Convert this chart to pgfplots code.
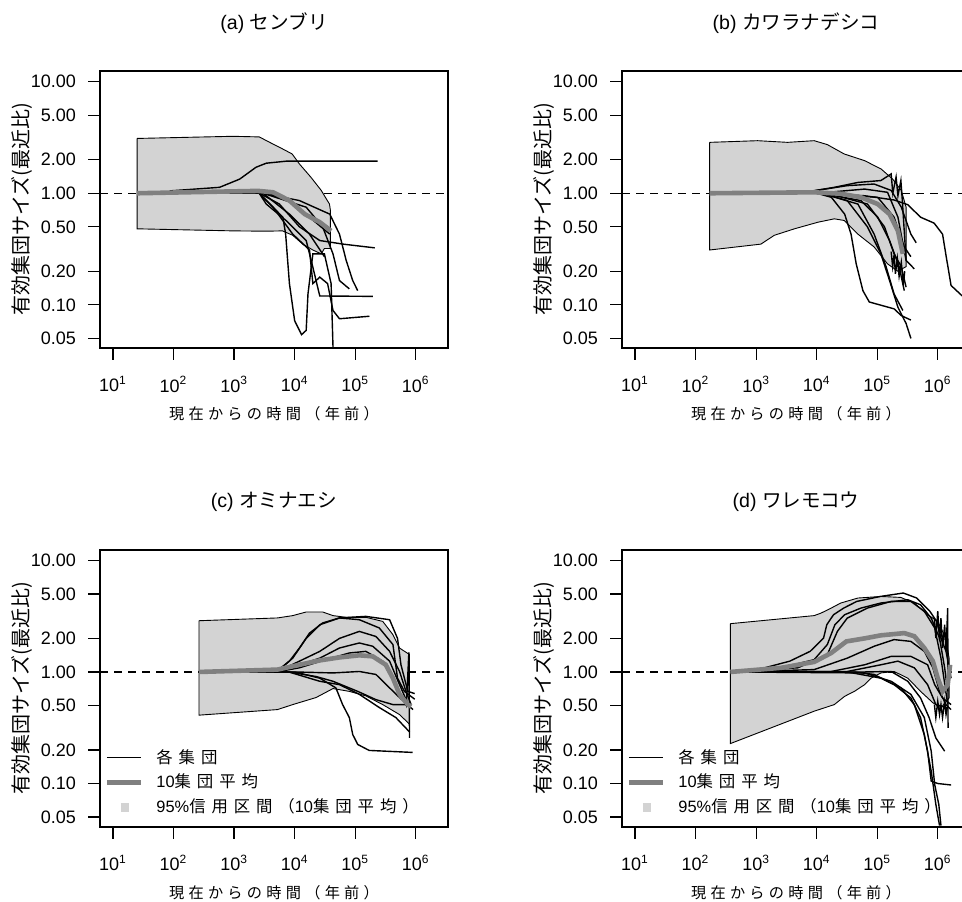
\documentclass[border=0pt]{standalone}
\usepackage{fontspec}
\setmainfont{Liberation Sans}
\newfontfamily\jp{Noto Sans CJK JP}
\newfontfamily\jpsp[LetterSpace=28]{Noto Sans CJK JP}
\newfontfamily\jpkey[LetterSpace=36]{Noto Sans CJK JP}
\usepackage{pgfplots}
\pgfplotsset{compat=1.18}
\definecolor{ciGray}{RGB}{211,211,211}
\definecolor{meanGray}{RGB}{128,128,128}
\pgfplotsset{
  pop/.style={black, line width=0.7pt, forget plot},
  avg/.style={meanGray, line width=2.3pt, forget plot},
  ci/.style={fill=ciGray, draw=black, line width=0.45pt, forget plot},
  one/.style={black, dash pattern=on 4pt off 3pt, line width=0.6pt, forget plot},
}
\newcommand{\keylegend}{%
  \addlegendimage{black, line width=0.7pt}
  \addlegendentry{{\jpkey 各集団}}
  \addlegendimage{meanGray, line width=2.6pt}
  \addlegendentry{10{\jpkey 集団平均}}
  \addlegendimage{ciGray, line width=4.4pt, shorten <=7pt, shorten >=6pt}
  \addlegendentry{95\%{\jpkey 信用区間（}10{\jpkey 集団平均）}}
}
\begin{document}
\begin{tikzpicture}
\path[use as bounding box] (0,0) rectangle (481pt,450.5pt);
\clip (0,0) rectangle (481pt,450.5pt);

% (a)
\begin{axis}[
    at={(50pt,276.5pt)}, anchor=south west,
    scale only axis, width=174pt, height=138.5pt,
    xmode=log, ymode=log, xmin=6.1, xmax=3.41e6, ymin=0.041, ymax=12.47,
    xtick={10,100,1000,10000,100000,1000000},
    xticklabels={10\textsuperscript{1},10\textsuperscript{2},10\textsuperscript{3},10\textsuperscript{4},10\textsuperscript{5},10\textsuperscript{6}},
    ytick={0.05,0.1,0.2,0.5,1,2,5,10},
    yticklabels={0.05,0.10,0.20,0.50,1.00,2.00,5.00,10.00},
    xminorticks=false, yminorticks=false,
    tick align=outside, major tick length=6pt,
    xtick pos=bottom, ytick pos=left,
    axis line style={line width=0.8pt},
    tick style={black, line width=0.6pt},
    tick label style={font=\fontsize{9}{10}\selectfont},
    xticklabel style={yshift=-4.5pt},
    yticklabel style={xshift=-2.5pt},
    xlabel={{\jpsp 現在からの時間（年前）}},
    xlabel style={font=\fontsize{7.6}{8}\selectfont, at={(axis description cs:0.5,-0.238)}, anchor=center},
    ylabel={{\jp 有効集団サイズ(最近比)}},
    ylabel style={font=\fontsize{10}{12}\selectfont, at={(axis description cs:-0.224,0.5)}, anchor=center},
    title style={font=\fontsize{9.8}{11}\selectfont, at={(axis description cs:0.5,1.173)}, anchor=center, yshift=-6pt},
    title={(a) {\jp センブリ}}]
\addplot[one] coordinates {(6.1,1) (3.41e6,1)};
\addplot[ci] coordinates {(25,3.1) (950,3.24) (2600,3.2) (4400,2.76) (6300,2.5) (9100,2.25) (12000,1.83) (18600,1.39) (27500,1.06) (37600,0.80) (39000,0.70) (39000,0.32)
  (31000,0.32) (27500,0.286) (20000,0.31) (13600,0.35) (9300,0.42) (6300,0.46) (3400,0.457) (950,0.46) (25,0.48) (25,3.1)};
\addplot[pop] coordinates {(86,1.05) (575,1.13) (1240,1.34) (2300,1.71) (3400,1.86) (7300,1.94) (235000,1.94)};
\addplot[pop] coordinates {(86,1.0) (2630,1.0) (5600,0.80) (12000,0.50) (26000,0.377) (63000,0.35) (210000,0.324)};
\addplot[pop] coordinates {(86,1.0) (3000,1.0) (12000,0.86) (38000,0.65) (55000,0.43) (71000,0.25) (91000,0.165) (110000,0.134)};
\addplot[pop] coordinates {(86,1.0) (3000,1.0) (15500,0.75) (29000,0.50) (43000,0.286) (55000,0.165) (80000,0.139)};
\addplot[pop] coordinates {(86,1.0) (2600,1.0) (3400,0.80) (7200,0.57) (15500,0.377) (20000,0.217) (26000,0.12) (195000,0.119)};
\addplot[pop] coordinates {(86,1.0) (2600,1.0) (4400,0.75) (9300,0.43) (17600,0.31) (20000,0.155) (26000,0.177) (35000,0.155) (43000,0.089) (55000,0.075) (172000,0.079)};
\addplot[pop] coordinates {(86,1.0) (2600,1.0) (6400,0.61) (7100,0.43) (8200,0.155) (10000,0.072) (13000,0.054) (15500,0.059) (16600,0.125) (20000,0.286) (31000,0.286) (40000,0.155) (43000,0.042)};
\addplot[pop] coordinates {(86,1.0) (3000,1.0) (8200,0.65) (17600,0.43) (29000,0.286) (31000,0.27)};
\addplot[pop] coordinates {(86,1.0) (3500,1.0) (8200,0.86) (38000,0.43)};
\addplot[avg] coordinates {(25,1.0) (2500,1.05) (4400,1.02) (8200,0.86) (14700,0.65) (26000,0.55) (40000,0.46)};
\end{axis}

% (b)
\begin{axis}[
    at={(311pt,276.5pt)}, anchor=south west,
    scale only axis, width=174pt, height=138.5pt,
    xmode=log, ymode=log, xmin=6.1, xmax=3.41e6, ymin=0.041, ymax=12.47,
    xtick={10,100,1000,10000,100000,1000000},
    xticklabels={10\textsuperscript{1},10\textsuperscript{2},10\textsuperscript{3},10\textsuperscript{4},10\textsuperscript{5},10\textsuperscript{6}},
    ytick={0.05,0.1,0.2,0.5,1,2,5,10},
    yticklabels={0.05,0.10,0.20,0.50,1.00,2.00,5.00,10.00},
    xminorticks=false, yminorticks=false,
    tick align=outside, major tick length=6pt,
    xtick pos=bottom, ytick pos=left,
    axis line style={line width=0.8pt},
    tick style={black, line width=0.6pt},
    tick label style={font=\fontsize{9}{10}\selectfont},
    xticklabel style={yshift=-4.5pt},
    yticklabel style={xshift=-2.5pt},
    xlabel={{\jpsp 現在からの時間（年前）}},
    xlabel style={font=\fontsize{7.6}{8}\selectfont, at={(axis description cs:0.5,-0.238)}, anchor=center},
    ylabel={{\jp 有効集団サイズ(最近比)}},
    ylabel style={font=\fontsize{10}{12}\selectfont, at={(axis description cs:-0.224,0.5)}, anchor=center},
    title style={font=\fontsize{9.8}{11}\selectfont, at={(axis description cs:0.5,1.173)}, anchor=center, yshift=-6pt},
    title={(b) {\jp カワラナデシコ}}]
\addplot[one] coordinates {(6.1,1) (3.41e6,1)};
\addplot[ci] coordinates {(171,2.86) (1060,2.96) (3300,2.86) (9100,2.96) (15000,2.73) (28500,2.25) (62000,1.96) (116000,1.65) (180000,1.34) (250000,1.06) (300000,0.75) (300000,0.25)
  (300000,0.22) (220000,0.20) (148000,0.233) (89000,0.33) (48000,0.43) (28500,0.57) (19600,0.59) (10500,0.55) (4300,0.48) (2000,0.42) (1200,0.35) (171,0.31) (171,2.86)};
\addplot[pop] coordinates {(171,1.0) (10000,1.0) (62000,0.95) (190000,0.87) (320000,0.79) (520000,0.61) (870000,0.54) (1200000,0.43) (1380000,0.27) (1660000,0.149) (2500000,0.121) (3200000,0.11)};
\addplot[pop] coordinates {(171,1.0) (10000,1.0) (17500,0.92) (29000,0.65) (37000,0.43) (45000,0.233) (58000,0.134) (74000,0.106) (190000,0.092) (250000,0.080) (360000,0.073)};
\addplot[pop] coordinates {(171,1.0) (12000,1.0) (32000,0.86) (69000,0.50) (115000,0.286) (160000,0.165) (220000,0.095) (300000,0.068) (360000,0.05)};
\addplot[pop] coordinates {(171,1.0) (12000,1.0) (48000,0.80) (89000,0.43) (140000,0.22) (190000,0.125) (265000,0.089)};
\addplot[pop] coordinates {(171,1.0) (15000,1.0) (69000,0.80) (132000,0.50) (190000,0.286) (250000,0.22) (300000,0.144)};
\addplot[pop] coordinates {(171,1.0) (5000,1.0) (19600,1.13) (48000,1.25) (115000,1.30) (170000,1.49) (181000,1.0) (205000,1.4) (220000,0.95) (246000,1.3) (260000,0.86) (300000,0.25)};
\addplot[pop] coordinates {(171,1.0) (5000,1.0) (32000,1.17) (89000,1.21) (170000,1.06) (250000,0.75) (360000,0.43) (440000,0.36)};
\addplot[pop] coordinates {(171,1.0) (10000,1.0) (62000,1.09) (148000,1.02) (220000,0.61) (300000,0.25) (410000,0.21)};
\addplot[pop] coordinates {(171,1.0) (10000,1.0) (102000,0.92) (190000,0.61) (280000,0.33) (360000,0.27)};
\addplot[pop] coordinates {(171,1.0) (12000,1.0) (54000,0.86) (102000,0.61) (160000,0.377) (230000,0.22) (280000,0.134)};
\addplot[pop] coordinates {(170000,0.30) (180000,0.22) (190000,0.28) (200000,0.19) (215000,0.26) (230000,0.18) (250000,0.24) (270000,0.15) (285000,0.2)};
\addplot[avg] coordinates {(171,1.0) (9100,1.02) (25000,0.99) (54000,0.92) (102000,0.80) (160000,0.65) (220000,0.46) (265000,0.286)};
\end{axis}

% (c)
\begin{axis}[
    at={(50pt,37.15pt)}, anchor=south west,
    scale only axis, width=174pt, height=138.5pt,
    xmode=log, ymode=log, xmin=6.1, xmax=3.41e6, ymin=0.041, ymax=12.47,
    xtick={10,100,1000,10000,100000,1000000},
    xticklabels={10\textsuperscript{1},10\textsuperscript{2},10\textsuperscript{3},10\textsuperscript{4},10\textsuperscript{5},10\textsuperscript{6}},
    ytick={0.05,0.1,0.2,0.5,1,2,5,10},
    yticklabels={0.05,0.10,0.20,0.50,1.00,2.00,5.00,10.00},
    xminorticks=false, yminorticks=false,
    tick align=outside, major tick length=6pt,
    xtick pos=bottom, ytick pos=left,
    axis line style={line width=0.8pt},
    tick style={black, line width=0.6pt},
    tick label style={font=\fontsize{9}{10}\selectfont},
    xticklabel style={yshift=-4.5pt},
    yticklabel style={xshift=-2.5pt},
    xlabel={{\jpsp 現在からの時間（年前）}},
    xlabel style={font=\fontsize{7.6}{8}\selectfont, at={(axis description cs:0.5,-0.238)}, anchor=center},
    ylabel={{\jp 有効集団サイズ(最近比)}},
    ylabel style={font=\fontsize{10}{12}\selectfont, at={(axis description cs:-0.224,0.5)}, anchor=center},
    title style={font=\fontsize{9.8}{11}\selectfont, at={(axis description cs:0.5,1.173)}, anchor=center, yshift=-6pt},
    title={(c) {\jp オミナエシ}},
    legend style={at={(axis description cs:0.006,0.285)}, anchor=north west,
      draw=none, fill=none, inner sep=0pt, row sep=3pt,
      font=\fontsize{8.2}{9}\selectfont, nodes={inner sep=0.5pt},
      /tikz/every odd column/.append style={column sep=5pt}},
    legend cell align=left]
\addplot[one] coordinates {(6.1,1) (3.41e6,1)};
\addplot[ci] coordinates {(263,2.88) (5200,3.05) (9300,3.2) (15500,3.45) (29000,3.45) (43000,3.2) (71000,3.09) (150000,3.09) (285000,2.84) (420000,2.16) (540000,1.64) (790000,1.43) (790000,0.34)
  (540000,0.415) (285000,0.51) (150000,0.61) (80000,0.67) (43000,0.71) (22600,0.59) (9300,0.51) (5200,0.46) (263,0.41) (263,2.88)};
\addplot[pop] coordinates {(263,1.0) (5000,1.01) (8200,1.25) (12000,1.64) (17600,2.23) (29000,2.75) (55000,3.05) (150000,3.15) (370000,2.94) (500000,2.0) (570000,1.16) (740000,0.67) (960000,0.64)};
\addplot[pop] coordinates {(263,1.0) (5000,1.0) (9300,1.33) (15500,2.0) (26000,2.65) (55000,3.05) (117000,2.94) (250000,2.48) (420000,1.76) (500000,0.88) (650000,0.67) (960000,0.57)};
\addplot[pop] coordinates {(263,1.0) (5000,1.0) (12000,1.25) (26000,1.53) (55000,2.0) (117000,2.31) (220000,2.08) (370000,1.53) (540000,1.01) (690000,0.67) (840000,0.51)};
\addplot[pop] coordinates {(263,1.0) (5000,1.0) (12000,1.16) (26000,1.33) (55000,1.64) (117000,1.82) (195000,1.70) (370000,1.25) (540000,0.77) (790000,0.48)};
\addplot[pop] coordinates {(263,1.0) (5000,1.0) (12000,1.09) (33000,1.29) (80000,1.48) (150000,1.53) (285000,1.25) (470000,0.77) (700000,0.5) (770000,1.5) (790000,0.256)};
\addplot[pop] coordinates {(263,1.0) (10000,1.0) (43000,0.98) (117000,1.01) (220000,0.95) (370000,0.72) (540000,0.59) (900000,0.46)};
\addplot[pop] coordinates {(263,1.0) (8000,1.0) (22600,0.91) (43000,0.825) (110000,0.67) (220000,0.565) (420000,0.51) (790000,0.51)};
\addplot[pop] coordinates {(263,1.0) (8000,1.0) (26000,0.825) (55000,0.77) (117000,0.63) (250000,0.48) (470000,0.39) (790000,0.29)};
\addplot[pop] coordinates {(263,1.0) (10000,1.0) (26000,0.88) (48000,0.72) (62000,0.51) (80000,0.39) (91000,0.275) (110000,0.224) (170000,0.198) (890000,0.19)};
\addplot[avg] coordinates {(263,1.0) (5200,1.05) (12000,1.16) (26000,1.27) (55000,1.35) (117000,1.41) (195000,1.38) (320000,1.16) (420000,0.88) (540000,0.63) (740000,0.51) (840000,0.49)};
\keylegend
\end{axis}

% (d)
\begin{axis}[
    at={(311pt,37.15pt)}, anchor=south west,
    scale only axis, width=174pt, height=138.5pt,
    xmode=log, ymode=log, xmin=6.1, xmax=3.41e6, ymin=0.041, ymax=12.47,
    xtick={10,100,1000,10000,100000,1000000},
    xticklabels={10\textsuperscript{1},10\textsuperscript{2},10\textsuperscript{3},10\textsuperscript{4},10\textsuperscript{5},10\textsuperscript{6}},
    ytick={0.05,0.1,0.2,0.5,1,2,5,10},
    yticklabels={0.05,0.10,0.20,0.50,1.00,2.00,5.00,10.00},
    xminorticks=false, yminorticks=false,
    tick align=outside, major tick length=6pt,
    xtick pos=bottom, ytick pos=left,
    axis line style={line width=0.8pt},
    tick style={black, line width=0.6pt},
    tick label style={font=\fontsize{9}{10}\selectfont},
    xticklabel style={yshift=-4.5pt},
    yticklabel style={xshift=-2.5pt},
    xlabel={{\jpsp 現在からの時間（年前）}},
    xlabel style={font=\fontsize{7.6}{8}\selectfont, at={(axis description cs:0.5,-0.238)}, anchor=center},
    ylabel={{\jp 有効集団サイズ(最近比)}},
    ylabel style={font=\fontsize{10}{12}\selectfont, at={(axis description cs:-0.224,0.5)}, anchor=center},
    title style={font=\fontsize{9.8}{11}\selectfont, at={(axis description cs:0.5,1.173)}, anchor=center, yshift=-6pt},
    title={(d) {\jp ワレモコウ}},
    legend style={at={(axis description cs:0.006,0.285)}, anchor=north west,
      draw=none, fill=none, inner sep=0pt, row sep=3pt,
      font=\fontsize{8.2}{9}\selectfont, nodes={inner sep=0.5pt},
      /tikz/every odd column/.append style={column sep=5pt}},
    legend cell align=left]
\addplot[one] coordinates {(6.1,1) (3.41e6,1)};
\addplot[ci] coordinates {(376,2.71) (9100,3.2) (11800,3.37) (17400,3.74) (25000,4.15) (48000,4.6) (115000,4.75) (245000,4.66) (410000,4.15) (680000,3.26) (1000000,2.84) (1360000,2.0) (1540000,1.33) (1540000,0.585)
  (1130000,0.476) (830000,0.53) (520000,0.67) (320000,0.88) (190000,1.01) (115000,0.98) (79000,0.88) (62000,0.77) (42000,0.67) (29000,0.605) (19600,0.51) (9100,0.445) (376,0.228) (376,2.71)};
\addplot[pop] coordinates {(376,1.0) (1070,1.05) (3600,1.25) (7800,1.53) (13000,2.01) (14700,2.65) (19000,3.26) (28000,3.74) (46000,4.29) (112000,4.75) (270000,5.1) (450000,4.6) (740000,3.5) (960000,2.84) (1130000,2.01) (1370000,1.53) (1660000,0.88)};
\addplot[pop] coordinates {(376,1.0) (2600,1.09) (9100,1.29) (15000,1.76) (20000,2.65) (29000,3.26) (54000,3.74) (115000,4.15) (320000,4.44) (520000,4.0) (780000,3.04) (1070000,2.01) (1300000,1.09) (1460000,0.67)};
\addplot[pop] coordinates {(376,1.0) (4900,1.09) (15000,1.43) (22000,2.31) (32000,3.04) (69000,3.74) (170000,4.29) (360000,4.29) (600000,3.5) (890000,2.48) (1130000,1.33) (1460000,0.51)};
\addplot[pop] coordinates {(376,1.0) (9100,1.05) (32000,1.33) (89000,1.70) (190000,1.95) (360000,1.88) (600000,1.53) (830000,1.09) (1070000,0.67) (1370000,0.51) (1660000,0.46)};
\addplot[pop] coordinates {(376,1.0) (17400,1.01) (62000,1.16) (170000,1.38) (360000,1.38) (680000,1.16) (890000,0.77) (1200000,0.585) (1660000,0.51)};
\addplot[pop] coordinates {(376,1.0) (32000,1.01) (115000,1.16) (220000,1.25) (410000,1.09) (680000,0.77) (930000,0.51) (1460000,0.476)};
\addplot[pop] coordinates {(376,1.0) (62000,1.0) (170000,1.01) (320000,0.825) (520000,0.585) (720000,0.39) (930000,0.256) (1300000,0.195)};
\addplot[pop] coordinates {(376,1.0) (42000,1.0) (89000,0.95) (190000,0.77) (360000,0.585) (520000,0.39) (680000,0.195) (780000,0.105) (1000000,0.10) (1660000,0.097)};
\addplot[pop] coordinates {(376,1.0) (32000,1.0) (115000,0.88) (245000,0.72) (410000,0.51) (600000,0.275) (780000,0.129) (930000,0.065) (1070000,0.042)};
\addplot[pop] coordinates {(376,1.0) (62000,0.98) (170000,0.825) (360000,0.63) (600000,0.39) (780000,0.195) (890000,0.098) (1040000,0.065) (1130000,0.042)};
\addplot[pop] coordinates {(880000,3.04) (930000,2.01) (1000000,3.5) (1070000,1.88) (1130000,3.04) (1200000,1.64) (1300000,2.65) (1370000,1.53) (1460000,3.74) (1480000,0.315)};
\addplot[pop] coordinates {(880000,0.51) (930000,0.39) (1000000,0.545) (1070000,0.415) (1130000,0.51) (1200000,0.39) (1300000,0.545) (1370000,0.415) (1460000,0.5)};
\addplot[avg] coordinates {(376,1.0) (2600,1.09) (9100,1.23) (17400,1.48) (31000,1.88) (62000,2.0) (115000,2.13) (280000,2.23) (410000,2.09) (600000,1.64) (830000,1.25) (1000000,0.88) (1200000,0.67) (1460000,0.77) (1600000,1.16)};
\keylegend
\end{axis}
\end{tikzpicture}
\end{document}
